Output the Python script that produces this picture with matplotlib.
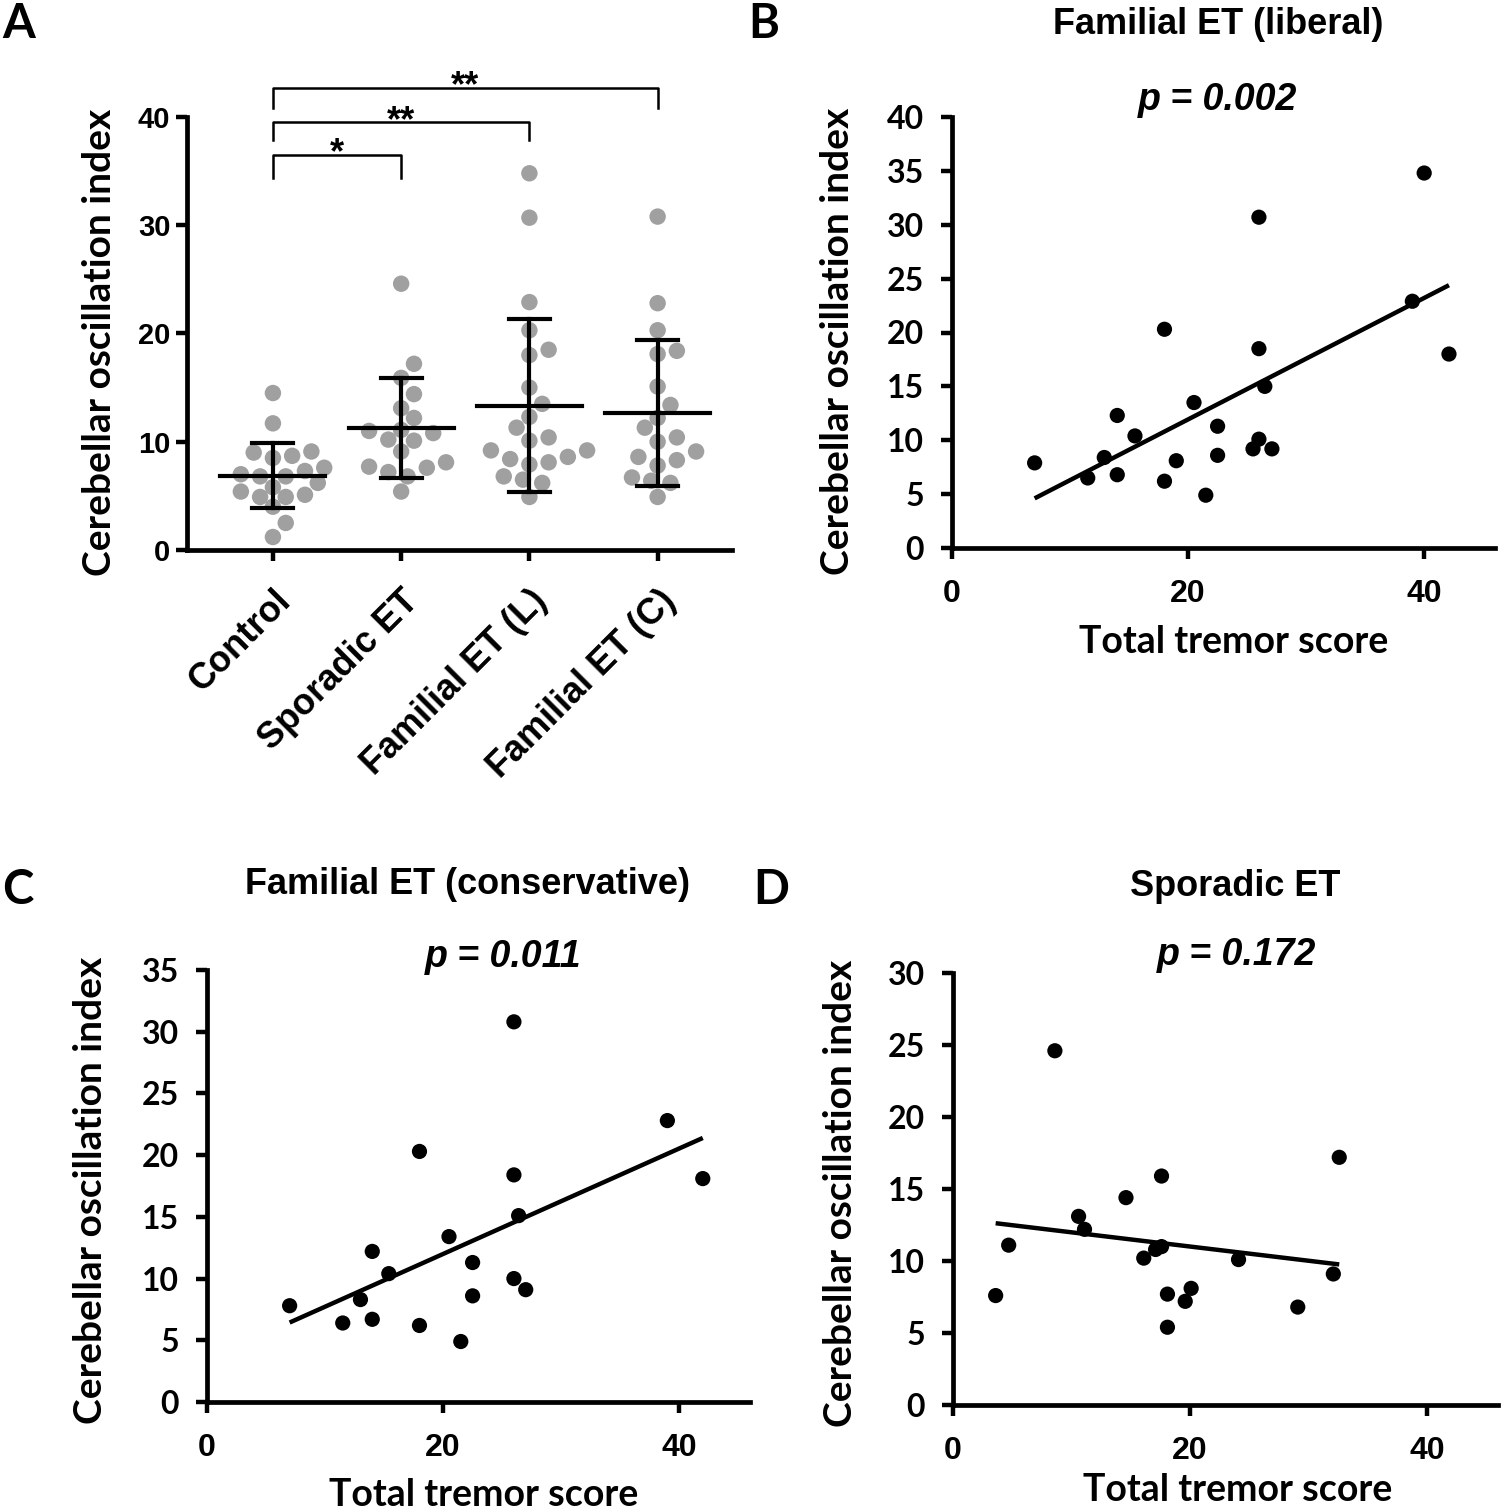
import numpy as np
import matplotlib
matplotlib.use('Agg')
import matplotlib.pyplot as plt

# panel A: cerebellar oscillation index per group
groups = ['Control', 'Sporadic ET', 'Familial ET (L)', 'Familial ET (C)']
control = [14.5, 11.7, 8.7, 9.0, 9.1, 8.5, 7.6, 7.0, 7.3, 6.8, 6.8, 6.2, 5.8, 5.4,
           4.9, 5.1, 4.9, 4.0, 2.5, 1.2]

# panel B: familial ET (liberal)
fl_score = [7.0, 11.5, 12.9, 14.0, 14.0, 15.5, 18.0, 18.0, 19.0, 20.5, 21.5,
            22.5, 22.5, 26.0, 26.0, 26.5, 26.0, 25.5, 27.1, 39.0, 40.0, 42.1]
fl_index = [7.9, 6.5, 8.4, 6.8, 12.3, 10.4, 20.3, 6.2, 8.1, 13.5, 4.9,
            11.3, 8.6, 30.7, 18.5, 15.0, 10.1, 9.2, 9.2, 22.9, 34.8, 18.0]

# panel C: familial ET (conservative)
fc_score = [7.0, 11.5, 13.0, 14.0, 14.0, 15.4, 18.0, 18.0, 20.5, 21.5,
            22.5, 22.5, 26.0, 26.0, 26.4, 26.0, 27.0, 39.0, 42.0]
fc_index = [7.8, 6.4, 8.3, 6.7, 12.2, 10.4, 20.3, 6.2, 13.4, 4.9,
            11.3, 8.6, 30.8, 18.4, 15.1, 10.0, 9.1, 22.8, 18.1]

# panel D: sporadic ET
sp_score = [3.6, 4.7, 8.6, 10.6, 11.1, 14.6, 17.6, 16.1, 17.1, 17.6, 18.1,
            18.1, 19.6, 20.1, 24.1, 29.1, 32.1, 32.6]
sp_index = [7.6, 11.1, 24.6, 13.1, 12.2, 14.4, 15.9, 10.2, 10.8, 11.0, 7.7,
            5.4, 7.2, 8.1, 10.1, 6.8, 9.1, 17.2]

p_values = ['0.002', '0.011', '0.172']
titles = ['Familial ET (liberal)', 'Familial ET (conservative)', 'Sporadic ET']
sig_pairs = [(0, 1, '*'), (0, 2, '**'), (0, 3, '**')]

NARROW = ['Liberation Sans Narrow', 'Liberation Sans', 'DejaVu Sans']
ARIAL = ['Liberation Sans', 'DejaVu Sans']
CALI = ['Lato', 'DejaVu Sans']

W, H = 1501, 1511


def px_axes(fig, l, r, t, b):
  return fig.add_axes([l / W, 1 - b / H, (r - l) / W, (b - t) / H])


def style_axes(ax):
  for s in ['top', 'right']:
    ax.spines[s].set_visible(False)
  for s in ['left', 'bottom']:
    ax.spines[s].set_linewidth(3.4)
  ax.tick_params(direction='out', length=8, width=3.2)


def swarm(vals, xscale, yscale, dmin, step):
  # simple beeswarm, offsets in category units
  order = np.argsort(vals)
  placed = []
  offs = np.zeros(len(vals))
  cands = [0.0]
  for k in range(1, 30):
    cands += [k * step, -k * step]
  for i in order:
    y = vals[i]
    for c in cands:
      ok = True
      for (px, py) in placed:
        if np.hypot((c - px) * xscale, (y - py) * yscale) < dmin:
          ok = False
          break
      if ok:
        offs[i] = c
        placed.append((c, y))
        break
  return offs


fig = plt.figure(figsize=(W / 100, H / 100), dpi=100)

# ---- panel A
ax = px_axes(fig, 187, 732, 117, 550)
style_axes(ax)
data_a = [control, sp_index, fl_index, fc_index]
for i, vals in enumerate(data_a):
  v = np.asarray(vals)
  offs = swarm(v, 127.7, 10.83, 15.5, 0.05)
  ax.scatter(i + offs, v, s=140, color='#a0a0a0', edgecolors='none', zorder=2)
  m, sd = v.mean(), v.std(ddof=1)
  ax.plot([i - 0.41, i + 0.41], [m, m], color='black', lw=3, zorder=3)
  ax.plot([i, i], [m - sd, m + sd], color='black', lw=3, zorder=3)
  for e in (m - sd, m + sd):
    ax.plot([i - 0.16, i + 0.16], [e, e], color='black', lw=3, zorder=3)
ax.set_xlim(-0.67, 3.58)
ax.set_ylim(0, 40)
ax.set_yticks([0, 10, 20, 30, 40])
ax.set_xticks(range(4))
ax.tick_params(axis='x', pad=16)
ax.tick_params(axis='y', pad=4)
ax.set_xticklabels(groups, rotation=45, ha='right', rotation_mode='anchor',
                   fontsize=26, fontweight='bold', family=ARIAL)
for lab in ax.get_yticklabels():
  lab.set_fontsize(21)
  lab.set_fontweight('bold')
  lab.set_family(NARROW)
ax.set_ylabel('Cerebellar oscillation index', fontsize=28, fontweight='bold',
              family=CALI, va='center')
ax.yaxis.set_label_coords(-0.160, 0.48)
# significance brackets
levels = [(36.5, 34.4), (39.5, 37.9), (42.7, 40.8)]
for (g0, g1, star), (top, low) in zip(sig_pairs, levels):
  ax.plot([g0, g0, g1, g1], [low, top, top, low], color='black', lw=1.8,
          clip_on=False)
  ax.text((g0 + g1) / 2, top - 0.8, star, ha='center', va='baseline',
          fontsize=26, fontweight='bold', family=ARIAL)
fig.text(2 / W, 1 - 2 / H, 'A', fontsize=34, fontweight='bold', family=CALI,
         va='top', ha='left')

# ---- scatter panels
panels = [
  ('B', (952, 1495, 117, 548), fl_score, fl_index, 40, (748, 2), (1218, 25), (1218, 100),
   (-0.210, 0.48), (0.518, -0.217)),
  ('C', (207, 750, 970, 1402), fc_score, fc_index, 35, (2, 868), (468, 885), (503, 957),
   (-0.215, 0.49), (0.51, -0.215)),
  ('D', (953, 1498, 973, 1405), sp_score, sp_index, 30, (753, 868), (1235, 887), (1237, 955),
   (-0.207, 0.49), (0.523, -0.197)),
]
for k, (letter, box, xs, ys, ymax, lpos, tpos, ppos, ylc, xlc) in enumerate(panels):
  ax = px_axes(fig, *box)
  style_axes(ax)
  x = np.asarray(xs)
  y = np.asarray(ys)
  ax.scatter(x, y, s=120, color='black', edgecolors='none', zorder=3)
  b1, b0 = np.polyfit(x, y, 1)
  xx = np.array([x.min(), x.max()])
  ax.plot(xx, b0 + b1 * xx, color='black', lw=3.2, solid_capstyle='butt', zorder=2)
  ax.set_xlim(0, 46)
  ax.set_ylim(0, ymax)
  ax.set_xticks([0, 20, 40])
  ax.set_yticks(np.arange(0, ymax + 1, 5))
  ax.tick_params(axis='x', pad=14)
  ax.tick_params(axis='y', pad=12)
  for lab in ax.get_xticklabels():
    lab.set_fontsize(23)
    lab.set_fontweight('bold')
    lab.set_family(ARIAL)
  for lab in ax.get_yticklabels():
    lab.set_fontsize(23)
    lab.set_fontweight('bold')
    lab.set_family(CALI)
  ax.set_xlabel('Total tremor score', fontsize=27, fontweight='bold', family=CALI,
                va='center')
  ax.xaxis.set_label_coords(*xlc)
  ax.set_ylabel('Cerebellar oscillation index', fontsize=28, fontweight='bold',
                family=CALI, va='center')
  ax.yaxis.set_label_coords(*ylc)
  fig.text(lpos[0] / W, 1 - lpos[1] / H, letter, fontsize=34, fontweight='bold',
           family=CALI, va='top', ha='left')
  fig.text(tpos[0] / W, 1 - tpos[1] / H, titles[k], fontsize=26, fontweight='bold',
           family=NARROW, va='center', ha='center')
  fig.text(ppos[0] / W, 1 - ppos[1] / H, 'p = ' + p_values[k], fontsize=27,
           fontweight='bold', style='italic', family=NARROW, va='center', ha='center')

fig.savefig('out.png', dpi=100)
